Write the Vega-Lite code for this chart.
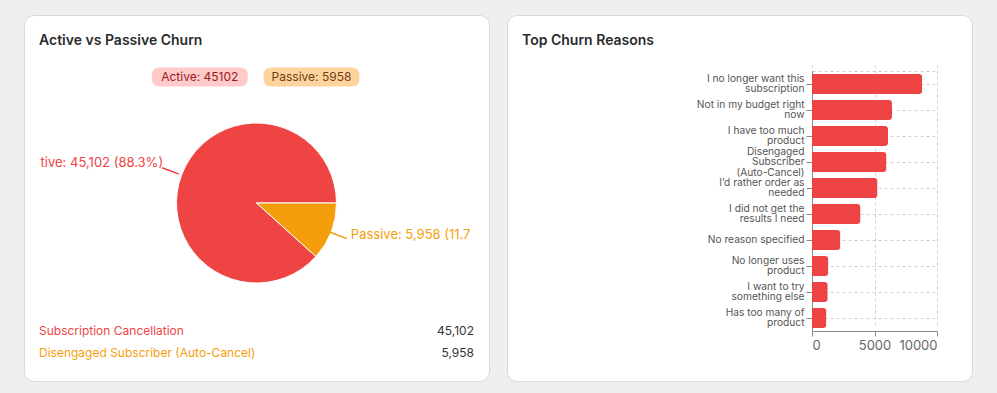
{
  "$schema": "https://vega.github.io/schema/vega-lite/v6.json",
  "background": "#efefef",
  "padding": {"left": 23, "top": 14, "right": 24, "bottom": 12},
  "spacing": 16,
  "config": {
    "font": "Inter",
    "view": {"fill": "#ffffff", "stroke": "#d9d9d9", "cornerRadius": 10, "strokeWidth": 1},
    "title": {"anchor": "start", "frame": "group", "fontSize": 14, "fontWeight": 600, "color": "#2b2b2b", "font": "Inter"},
    "axis": {"labelFont": "Inter"}
  },
  "hconcat": [
    {
      "width": 465,
      "height": 366,
      "view": {"fill": "#ffffff", "stroke": "#d9d9d9", "cornerRadius": 10, "strokeWidth": 1},
      "title": {"text": "Active vs Passive Churn", "offset": -44, "dx": 15, "baseline": "alphabetic"},
      "data": {"values": [
        {"type": "Active", "name": "Subscription Cancellation", "value": 45102, "badge": "Active: 45102", "label": "tive: 45,102 (88.3%)"},
        {"type": "Passive", "name": "Disengaged Subscriber (Auto-Cancel)", "value": 5958, "badge": "Passive: 5958", "label": "Passive: 5,958 (11.7"}
      ]},
      "layer": [
        {
          "mark": {"type": "arc", "outerRadius": 80, "stroke": "#ffffff", "strokeWidth": 1},
          "encoding": {
            "y": {"value": 188},
            "theta": {"field": "value", "type": "quantitative", "stack": true, "scale": {"range": [1.5707963, 7.8539816]}},
            "color": {"field": "type", "type": "nominal", "scale": {"domain": ["Active", "Passive"], "range": ["#ef4444", "#f59e0b"]}, "legend": null},
            "order": {"field": "type", "sort": "descending"}
          }
        },
        {
          "mark": {"type": "text", "radius": 90, "angle": 21, "fontSize": 20, "font": "DejaVu Sans", "text": "—", "align": "center", "baseline": "middle", "dy": 5},
          "encoding": {
            "theta": {"field": "value", "type": "quantitative", "stack": true},
            "color": {"field": "type", "type": "nominal", "legend": null},
            "order": {"field": "type", "sort": "descending"}
          }
        },
        {
          "mark": {"type": "text", "radius": 100, "align": "right", "baseline": "middle", "dy": 1, "fontSize": 13},
          "encoding": {
            "theta": {"field": "value", "type": "quantitative", "stack": true},
            "color": {"field": "type", "type": "nominal", "legend": null},
            "order": {"field": "type", "sort": "descending"},
            "text": {"condition": {"test": "datum.type === 'Active'", "field": "label"}, "value": ""}
          }
        },
        {
          "mark": {"type": "text", "radius": 100, "align": "left", "baseline": "middle", "dx": 1, "dy": 1, "fontSize": 13},
          "encoding": {
            "theta": {"field": "value", "type": "quantitative", "stack": true},
            "color": {"field": "type", "type": "nominal", "legend": null},
            "order": {"field": "type", "sort": "descending"},
            "text": {"condition": {"test": "datum.type === 'Passive'", "field": "label"}, "value": ""}
          }
        },
        {
          "mark": {"type": "point", "shape": "M -0.833 -0.2 L 0.833 -0.2 Q 1 -0.2 1 -0.033 L 1 0.033 Q 1 0.2 0.833 0.2 L -0.833 0.2 Q -1 0.2 -1 0.033 L -1 -0.033 Q -1 -0.2 -0.833 -0.2 Z", "size": 9216, "filled": true, "opacity": 1, "strokeWidth": 0},
          "encoding": {
            "x": {"field": "type", "type": "nominal", "scale": {"type": "point", "range": [175.8, 287.5], "padding": 0}, "axis": null},
            "y": {"value": 62},
            "color": {"condition": {"test": "datum.type === 'Active'", "value": "#fecaca"}, "value": "#fdd49e"}
          }
        },
        {
          "mark": {"type": "text", "fontSize": 12, "align": "center", "baseline": "middle"},
          "encoding": {
            "x": {"field": "type", "type": "nominal"},
            "y": {"value": 62},
            "text": {"field": "badge"},
            "color": {"condition": {"test": "datum.type === 'Active'", "value": "#991b1b"}, "value": "#713f12"}
          }
        },
        {
          "mark": {"type": "text", "fontSize": 12, "align": "left", "baseline": "middle"},
          "encoding": {
            "x": {"value": 15},
            "y": {"field": "type", "type": "nominal", "scale": {"type": "point", "range": [315.5, 338], "padding": 0}, "axis": null},
            "text": {"field": "name"},
            "color": {"field": "type", "type": "nominal", "legend": null}
          }
        },
        {
          "mark": {"type": "text", "fontSize": 12, "align": "right", "baseline": "middle", "color": "#333333"},
          "encoding": {
            "x": {"value": 450},
            "y": {"field": "type", "type": "nominal"},
            "text": {"field": "value", "type": "quantitative", "format": ","}
          }
        }
      ]
    },
    {
      "width": 465,
      "height": 366,
      "title": {"text": "Top Churn Reasons", "offset": -44, "dx": 15, "baseline": "alphabetic"},
      "data": {"values": [
        {"reason": "I no longer want this\nsubscription", "count": 8820},
        {"reason": "Not in my budget right\nnow", "count": 6400},
        {"reason": "I have too much\nproduct", "count": 6080},
        {"reason": "Disengaged\nSubscriber\n(Auto-Cancel)", "count": 5958},
        {"reason": "I’d rather order as\nneeded", "count": 5240},
        {"reason": "I did not get the\nresults I need", "count": 3880},
        {"reason": "No reason specified", "count": 2270},
        {"reason": "No longer uses\nproduct", "count": 1310},
        {"reason": "I want to try\nsomething else", "count": 1260},
        {"reason": "Has too many of\nproduct", "count": 1150}
      ]},
      "layer": [
        {
          "mark": {"type": "bar", "color": "#ef4444", "cornerRadiusEnd": 3},
          "encoding": {
            "y": {"field": "reason", "type": "nominal", "sort": null,
              "scale": {"range": [56, 316], "paddingInner": 0.24, "paddingOuter": 0.12},
              "axis": {"title": null, "offset": -305, "labelExpr": "split(datum.value, '\\n')", "labelBaseline": "middle",
                "labelOffset": {"condition": [{"test": "indexof(datum.value, '(Auto') >= 0", "value": -10.5}, {"test": "indexof(datum.value, '\\n') >= 0", "value": -5.25}], "value": 0},
                "labelFontSize": 10.2, "labelColor": "#555555", "labelLineHeight": 10.5, "labelPadding": 2, "labelLimit": 200, "tickSize": 6, "tickColor": "#888888", "domainColor": "#888888", "grid": true, "gridDash": [3, 3], "gridColor": "#cfcfcf"}},
            "x": {"field": "count", "type": "quantitative",
              "scale": {"domain": [0, 10000], "range": [305, 430], "nice": false},
              "axis": {"title": null, "offset": -50, "values": [0, 5000, 10000], "format": "d", "labelFontSize": 13, "labelColor": "#666666", "labelPadding": 3, "tickSize": 5, "tickColor": "#888888", "domainColor": "#888888", "grid": true, "gridDash": [3, 3], "gridColor": "#cfcfcf"}}
          }
        },
        {
          "mark": {"type": "rule", "strokeOpacity": 0},
          "encoding": {
            "x": {"field": "count", "type": "quantitative",
              "axis": {"orient": "top", "offset": -56, "labels": false, "ticks": false, "grid": false, "title": null, "domainDash": [3, 3], "domainColor": "#cfcfcf"}}
          }
        }
      ],
      "resolve": {"axis": {"x": "independent"}}
    }
  ]
}
